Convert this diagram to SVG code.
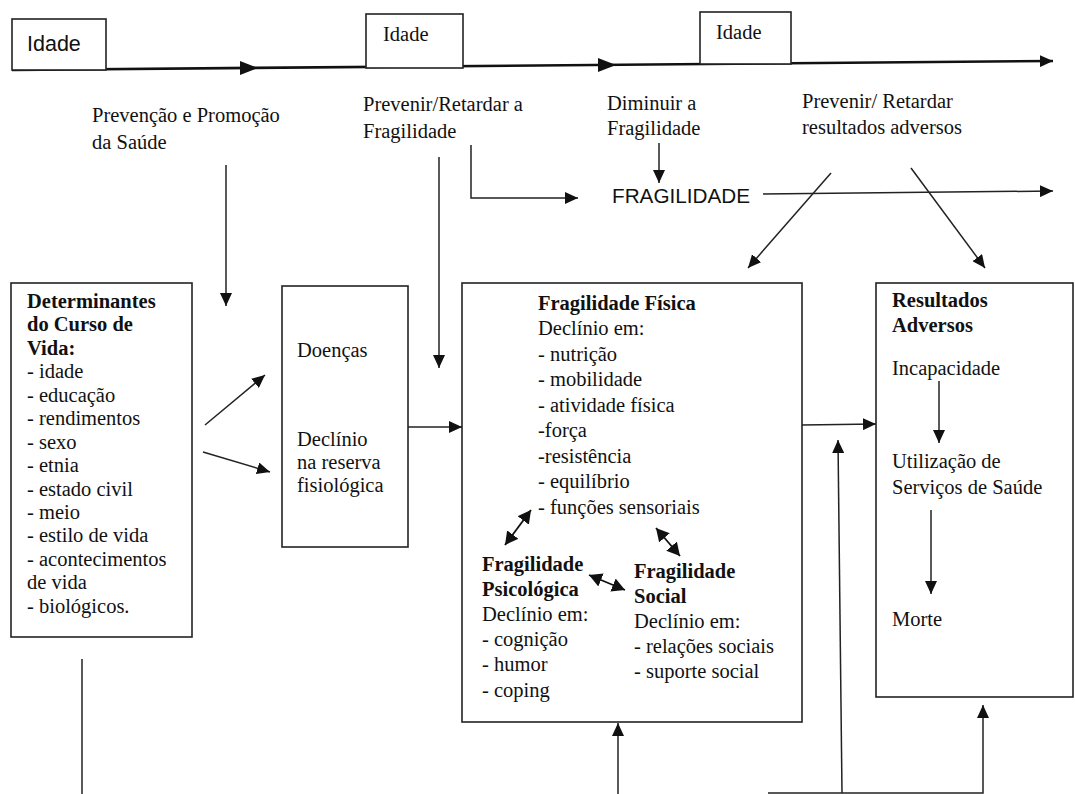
<svg xmlns="http://www.w3.org/2000/svg" width="1075" height="794" viewBox="0 0 1075 794">
<defs>
<style>
.s{font-family:"Liberation Serif","Times New Roman",serif;font-size:20.5px;fill:#111}
.b{font-weight:bold}
.a{font-family:"Liberation Sans",Arial,sans-serif;font-size:20.7px;fill:#111}
.box{fill:#fff;stroke:#222;stroke-width:1.6}
.ln{fill:none;stroke:#222;stroke-width:1.5}
.arr{fill:none;stroke:#222;stroke-width:1.5;marker-end:url(#ah)}
.dbl{fill:none;stroke:#111;stroke-width:1.8;marker-start:url(#ah2);marker-end:url(#ah2)}
</style>
<marker id="ah" markerUnits="userSpaceOnUse" markerWidth="14" markerHeight="12" refX="13" refY="6" orient="auto">
<path d="M0,0 L13,6 L0,12 z" fill="#111"/>
</marker>
<marker id="ah2" markerUnits="userSpaceOnUse" markerWidth="14" markerHeight="14" refX="13" refY="7" orient="auto-start-reverse">
<path d="M0,0 L13,7 L0,14 z" fill="#111"/>
</marker>
</defs>
<rect width="1075" height="794" fill="#fff"/>

<g id="timeline">
<path d="M12,70 L1053,61" fill="none" stroke="#111" stroke-width="2.6" marker-end="url(#ah)"/>
<polygon points="240,61 258,68 240,75" fill="#111"/>
<polygon points="598,58 616,65 598,72" fill="#111"/>
</g>

<g id="idade1">
<rect class="box" x="12" y="19" width="94" height="51"/>
<text class="a" x="27" y="51" style="font-size:21.5px">Idade</text>
</g>
<g id="idade2">
<rect class="box" x="366" y="14" width="97" height="54"/>
<text class="s" x="383" y="41">Idade</text>
</g>
<g id="idade3">
<rect class="box" x="700" y="12" width="91" height="52"/>
<text class="s" x="716" y="39">Idade</text>
</g>

<g id="lbl-prevencao">
<text class="s" x="92" y="122">Prevenção e Promoção</text>
<text class="s" x="92" y="149">da Saúde</text>
</g>
<g id="lbl-prevenir">
<text class="s" x="363" y="111">Prevenir/Retardar a</text>
<text class="s" x="363" y="138">Fragilidade</text>
</g>
<g id="lbl-diminuir">
<text class="s" x="607" y="110">Diminuir a</text>
<text class="s" x="607" y="135">Fragilidade</text>
</g>
<g id="lbl-prevenir2">
<text class="s" x="802" y="108">Prevenir/ Retardar</text>
<text class="s" x="802" y="134">resultados adversos</text>
</g>
<g id="fragilidade">
<text class="a" x="612" y="203">FRAGILIDADE</text>
</g>

<g id="determinantes">
<rect class="box" x="11" y="283" width="181" height="354"/>
<text class="s b" x="27" y="308">Determinantes</text>
<text class="s b" x="27" y="331">do Curso de</text>
<text class="s b" x="27" y="355">Vida:</text>
<text class="s" x="27" y="378">- idade</text>
<text class="s" x="27" y="402">- educação</text>
<text class="s" x="27" y="425">- rendimentos</text>
<text class="s" x="27" y="449">- sexo</text>
<text class="s" x="27" y="472">- etnia</text>
<text class="s" x="27" y="496">- estado civil</text>
<text class="s" x="27" y="519">- meio</text>
<text class="s" x="27" y="542">- estilo de vida</text>
<text class="s" x="27" y="566">- acontecimentos</text>
<text class="s" x="27" y="589">de vida</text>
<text class="s" x="27" y="613">- biológicos.</text>
</g>

<g id="doencas">
<rect class="box" x="282" y="286" width="126" height="261"/>
<text class="s" x="297" y="357">Doenças</text>
<text class="s" x="297" y="446">Declínio</text>
<text class="s" x="297" y="469">na reserva</text>
<text class="s" x="297" y="492">fisiológica</text>
</g>

<g id="fragilidade-box">
<rect class="box" x="462" y="283" width="340" height="439"/>
<text class="s b" x="538" y="310">Fragilidade Física</text>
<text class="s" x="538" y="335">Declínio em:</text>
<text class="s" x="538" y="361">- nutrição</text>
<text class="s" x="538" y="386">- mobilidade</text>
<text class="s" x="538" y="412">- atividade física</text>
<text class="s" x="538" y="437">-força</text>
<text class="s" x="538" y="463">-resistência</text>
<text class="s" x="538" y="488">- equilíbrio</text>
<text class="s" x="538" y="514">- funções sensoriais</text>
<text class="s b" x="482" y="571">Fragilidade</text>
<text class="s b" x="482" y="596">Psicológica</text>
<text class="s" x="482" y="621">Declínio em:</text>
<text class="s" x="482" y="646">- cognição</text>
<text class="s" x="482" y="671">- humor</text>
<text class="s" x="482" y="697">- coping</text>
<text class="s b" x="634" y="578">Fragilidade</text>
<text class="s b" x="634" y="603">Social</text>
<text class="s" x="634" y="628">Declínio em:</text>
<text class="s" x="634" y="653">- relações sociais</text>
<text class="s" x="634" y="678">- suporte social</text>
</g>

<g id="resultados">
<rect class="box" x="876" y="283" width="197" height="414"/>
<text class="s b" x="892" y="307">Resultados</text>
<text class="s b" x="892" y="332">Adversos</text>
<text class="s" x="892" y="375">Incapacidade</text>
<text class="s" x="892" y="468">Utilização de</text>
<text class="s" x="892" y="494">Serviços de Saúde</text>
<text class="s" x="892" y="626">Morte</text>
</g>

<g id="connectors">
<path class="arr" d="M226,165 L226,306"/>
<path class="arr" d="M439,157 L439,368"/>
<path class="arr" d="M471,145 L471,198 L578,198"/>
<path class="arr" d="M659,143 L659,183"/>
<path class="arr" d="M763,194 L1053,191"/>
<path class="arr" d="M831,173 L748,268"/>
<path class="arr" d="M911,168 L985,268"/>
<path class="arr" d="M205,425 L265,375"/>
<path class="arr" d="M203,452 L270,472"/>
<path class="arr" d="M408,427 L462,427"/>
<path class="arr" d="M802,425 L876,424"/>
<path class="arr" d="M939,381 L939,443"/>
<path class="arr" d="M931,510 L931,594"/>
<path class="dbl" d="M531,510 L505,545"/>
<path class="dbl" d="M656,528 L680,556"/>
<path class="dbl" d="M589,575 L625,590"/>
<path class="ln" d="M82,659 L82,794"/>
<path class="arr" d="M618,794 L618,723"/>
<path class="arr" d="M842,793 L838,440"/>
<path class="arr" d="M768,793 L983,793 L983,705"/>
</g>
</svg>
